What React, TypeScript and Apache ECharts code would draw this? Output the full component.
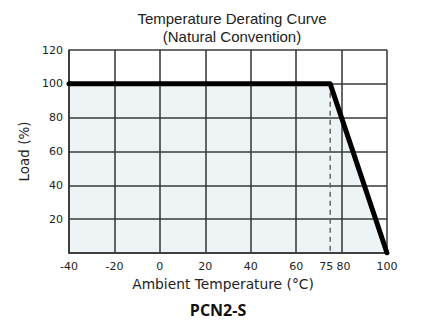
import React, { useEffect, useRef } from "react";
import * as echarts from "echarts";

const curveTemps = [-40, 75, 100];
const curveLoads = [100, 100, 0];
const dashTemps = [75, 75];
const dashLoads = [100, 0];
const xLabelValues = [-40, -20, 0, 20, 40, 60, 75, 80, 100];
const yLabelValues = [20, 40, 60, 80, 100, 120];

export default function App() {
  const ref = useRef<HTMLDivElement>(null);
  useEffect(() => {
    if (!ref.current) return;
    const chart = echarts.init(ref.current, undefined, { renderer: "svg" });
    const curve = curveTemps.map((t, i) => [t, curveLoads[i]]);
    const dash = dashTemps.map((t, i) => [t, dashLoads[i]]);
    const tickFont = { fontFamily: "DejaVu Sans", fontSize: 11, color: "#222" };
    chart.setOption({
      animation: false,
      backgroundColor: "#fff",
      title: {
        text: "Temperature Derating Curve\n(Natural Convention)",
        left: 227,
        top: 4,
        textAlign: "center",
        textStyle: {
          fontFamily: "Liberation Sans",
          fontSize: 15,
          fontWeight: "normal",
          color: "#222",
          lineHeight: 18,
        },
      },
      grid: { left: 69, top: 50, width: 318, height: 203, containLabel: false },
      xAxis: [
        {
          type: "value",
          min: -40,
          max: 100,
          interval: 5,
          position: "bottom",
          axisLine: { show: true, onZero: false, lineStyle: { color: "#333", width: 1.5 } },
          axisTick: { show: false },
          splitLine: { show: false },
          axisLabel: {
            ...tickFont,
            margin: 8,
            formatter: (v: number) => {
              if (!xLabelValues.includes(v)) return "";
              if (v === 75) return "{l|75}";
              if (v === 80) return "{r|80}";
              return String(v);
            },
            rich: {
              l: { ...tickFont, padding: [0, 8, 0, 0] },
              r: { ...tickFont, padding: [0, 0, 0, 4] },
            },
          },
          name: "Ambient Temperature (°C)",
          nameLocation: "middle",
          nameGap: 23,
          nameTextStyle: { fontFamily: "DejaVu Sans", fontSize: 13.8, color: "#222", padding: [0, 10, 0, 0] },
          z: 3,
        },
        {
          type: "value",
          min: -40,
          max: 100,
          interval: 20,
          position: "bottom",
          axisLine: { show: false },
          axisTick: { show: false },
          axisLabel: { show: false },
          splitLine: { show: true, lineStyle: { color: "#333", width: 1.5 } },
          z: 3,
        },
      ],
      yAxis: {
        type: "value",
        min: 0,
        max: 120,
        interval: 20,
        axisLine: { show: true, onZero: false, lineStyle: { color: "#333", width: 1.5 } },
        axisTick: { show: false },
        splitLine: { show: true, lineStyle: { color: "#3a3a3a", width: 1.5 } },
        axisLabel: {
          ...tickFont,
          margin: 6,
          formatter: (v: number) => (yLabelValues.includes(v) ? String(v) : ""),
        },
        name: "Load (%)",
        nameLocation: "middle",
        nameRotate: 90,
        nameGap: 34,
        nameTextStyle: { fontFamily: "DejaVu Sans", fontSize: 13.5, color: "#222" },
        z: 3,
      },
      graphic: [
        {
          type: "text",
          x: 218,
          y: 310,
          style: {
            text: "PCN2-S",
            fontFamily: "Open Sans",
            fontWeight: "bold",
            fontSize: 16,
            fill: "#111",
            align: "center",
            verticalAlign: "middle",
          },
        },
      ],
      series: [
        {
          type: "line",
          data: curve,
          xAxisIndex: 0,
          symbol: "none",
          lineStyle: { width: 0, opacity: 0 },
          areaStyle: { color: "#eef3f5", opacity: 1 },
          z: 1,
          silent: true,
        },
        {
          type: "line",
          data: dash,
          xAxisIndex: 0,
          symbol: "none",
          lineStyle: { color: "#666", width: 1.5, type: [5, 4] },
          z: 4,
          silent: true,
        },
        {
          type: "line",
          data: curve,
          xAxisIndex: 0,
          symbol: "none",
          lineStyle: { color: "#000", width: 5, join: "round", cap: "round" },
          z: 5,
          silent: true,
        },
      ],
    });
    return () => chart.dispose();
  }, []);
  return (
    <div
      ref={ref}
      style={{ position: "fixed", left: 0, top: 0, width: 436, height: 327 }}
    />
  );
}
